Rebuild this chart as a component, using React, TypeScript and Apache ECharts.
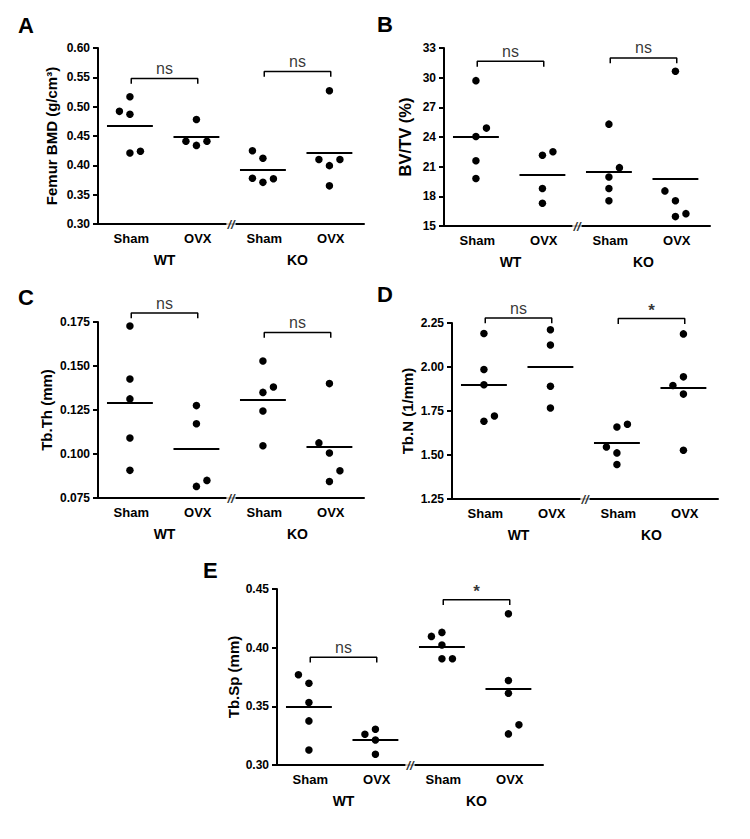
import React, { useEffect, useRef } from "react";
import * as echarts from "echarts";

const FONT = '"Liberation Sans", Arial, Helvetica, sans-serif';

// Category labels
const groups = ["Sham", "OVX", "Sham", "OVX"];
const genotypes = ["WT", "KO"];

// Panel A: Femur BMD (g/cm3) — per group: WT Sham, WT OVX, KO Sham, KO OVX
const aValues = [
  [0.517, 0.492, 0.487, 0.421, 0.424],
  [0.478, 0.441, 0.434, 0.441],
  [0.425, 0.412, 0.378, 0.371, 0.377],
  [0.527, 0.41, 0.3995, 0.41, 0.365],
];
const aSlots = [
  [0, -1, 0, 0, 1],
  [0, -1, 0, 1],
  [-1, 0, -1, 0, 1],
  [0, -1, 0, 1, 0],
];
const aBracketY = [0.548, 0.56];
const aBracketText = ["ns", "ns"];

// Panel B: BV/TV (%)
const bValues = [
  [29.7, 24.9, 24.05, 21.6, 19.8],
  [22.15, 22.5, 18.8, 17.3],
  [25.3, 20.9, 19.95, 18.8, 17.55],
  [30.65, 18.55, 17.55, 16.25, 15.95],
];
const bSlots = [
  [0, 1, 0, 0, 0],
  [0, 1, 0, 0],
  [0, 1, 0, 0, 0],
  [0, -1, 0, 1, 0],
];
const bBracketY = [31.65, 32.0];
const bBracketText = ["ns", "ns"];

// Panel C: Tb.Th (mm)
const cValues = [
  [0.1727, 0.1426, 0.1313, 0.1091, 0.0907],
  [0.1275, 0.1172, 0.0816, 0.085],
  [0.1528, 0.1381, 0.135, 0.1244, 0.1047],
  [0.14, 0.1063, 0.1006, 0.0905, 0.0844],
];
const cSlots = [
  [0, 0, 0, 0, 0],
  [0, 0, 0, 1],
  [0, 1, 0, 0, 0],
  [0, -1, 0, 1, 0],
];
const cBracketY = [0.1801, 0.1691];
const cBracketText = ["ns", "ns"];

// Panel D: Tb.N (1/mm)
const dValues = [
  [2.19, 1.986, 1.899, 1.722, 1.692],
  [2.212, 2.125, 1.891, 1.767],
  [1.675, 1.659, 1.546, 1.512, 1.446],
  [2.188, 1.944, 1.895, 1.846, 1.527],
];
const dSlots = [
  [0, 0, 0, 1, 0],
  [0, 0, 0, 0],
  [1, 0, -1, 0, 0],
  [0, 0, -1, 0, 0],
];
const dBracketY = [2.278, 2.275];
const dBracketText = ["ns", "*"];

// Panel E: Tb.Sp (mm)
const eValues = [
  [0.3769, 0.3697, 0.3532, 0.3376, 0.3128],
  [0.3262, 0.3305, 0.3213, 0.3091],
  [0.413, 0.4096, 0.4022, 0.3905, 0.3905],
  [0.4289, 0.372, 0.3612, 0.3342, 0.3265],
];
const eSlots = [
  [-1, 0, 0, 0, 0],
  [-1, 0, 0, 0],
  [0, -1, 0, 0, 1],
  [0, 0, 0, 1, 0],
];
const eBracketY = [0.3919, 0.4409];
const eBracketText = ["ns", "*"];

// Layout / style config
const SLOT = 0.158;
const SHIFT = -0.02;
const HALF = 0.345;
const GRID_W = 266;

const panels = [
  { letter: "A", title: "Femur BMD (g/cm³)", values: aValues, slots: aSlots, bracketY: aBracketY, bracketText: aBracketText,
    yMin: 0.3, yMax: 0.6, yStep: 0.05, dec: 2, left: 98, top: 48, height: 176, nameGap: 39, titleSize: 15, lx: 18, ly: 14 },
  { letter: "B", title: "BV/TV (%)", values: bValues, slots: bSlots, bracketY: bBracketY, bracketText: bBracketText,
    yMin: 15, yMax: 33, yStep: 3, dec: 0, left: 444, top: 48, height: 178, nameGap: 31, titleSize: 16.5, lx: 377, ly: 13 },
  { letter: "C", title: "Tb.Th (mm)", values: cValues, slots: cSlots, bracketY: cBracketY, bracketText: cBracketText,
    yMin: 0.075, yMax: 0.175, yStep: 0.025, dec: 3, left: 98, top: 322, height: 176, nameGap: 44, titleSize: 15, lx: 18, ly: 286 },
  { letter: "D", title: "Tb.N (1/mm)", values: dValues, slots: dSlots, bracketY: dBracketY, bracketText: dBracketText,
    yMin: 1.25, yMax: 2.25, yStep: 0.25, dec: 2, left: 452, top: 323, height: 176, nameGap: 37, titleSize: 15, lx: 377, ly: 283 },
  { letter: "E", title: "Tb.Sp (mm)", values: eValues, slots: eSlots, bracketY: eBracketY, bracketText: eBracketText,
    yMin: 0.3, yMax: 0.45, yStep: 0.05, dec: 2, left: 277, top: 589, height: 176, nameGap: 36, titleSize: 15, lx: 203, ly: 559 },
];

function buildOption() {
  const grid: any[] = [];
  const xAxis: any[] = [];
  const yAxis: any[] = [];
  const series: any[] = [];
  const graphic: any[] = [];
  const black = "#000";

  panels.forEach((p, i) => {
    grid.push({ left: p.left, top: p.top, width: GRID_W, height: p.height });
    xAxis.push({
      type: "category", gridIndex: i, position: "bottom", data: groups,
      axisLine: { onZero: false, lineStyle: { color: black, width: 2 } },
      axisTick: { alignWithLabel: true, length: 5, lineStyle: { color: black, width: 2 } },
      axisLabel: { color: black, fontSize: 13, fontWeight: "bold", fontFamily: FONT, margin: 8 },
      splitLine: { show: false },
    });
    xAxis.push({ type: "value", gridIndex: i, position: "top", min: -0.5, max: 3.5, show: false,
      axisLine: { onZero: false } });
    xAxis.push({
      type: "category", gridIndex: i, position: "bottom", data: genotypes,
      axisLine: { show: false, onZero: false }, axisTick: { show: false },
      axisLabel: { color: black, fontSize: 14, fontWeight: "bold", fontFamily: FONT, margin: 29 },
      splitLine: { show: false },
    });
    yAxis.push({
      type: "value", gridIndex: i, min: p.yMin, max: p.yMax, interval: p.yStep,
      axisLine: { show: true, onZero: false, lineStyle: { color: black, width: 2 } },
      axisTick: { show: true, length: 5, lineStyle: { color: black, width: 2 } },
      splitLine: { show: false },
      axisLabel: { color: black, fontSize: 12, fontWeight: "bold", fontFamily: FONT, margin: 8,
        formatter: (v: number) => v.toFixed(p.dec) },
      name: p.title, nameLocation: "middle", nameRotate: 90, nameGap: p.nameGap,
      nameTextStyle: { color: black, fontSize: p.titleSize, fontWeight: "bold", fontFamily: FONT },
    });

    const vx = 3 * i + 1;
    const points: number[][] = [];
    p.values.forEach((vals, g) =>
      vals.forEach((v, k) => points.push([g + SHIFT + p.slots[g][k] * SLOT, v]))
    );
    const means = p.values.map((vals) => vals.reduce((a, b) => a + b, 0) / vals.length);
    series.push({
      type: "scatter", xAxisIndex: vx, yAxisIndex: i, data: points, symbolSize: 7.5,
      itemStyle: { color: black, opacity: 1 }, clip: false, silent: true,
      markLine: {
        silent: true, symbol: ["none", "none"], label: { show: false },
        lineStyle: { color: black, width: 2, type: "solid" },
        data: means.map((m, g) => [{ coord: [g + SHIFT - HALF, m] }, { coord: [g + SHIFT + HALF, m] }]),
      },
    });

    const leg = (p.yMax - p.yMin) * 0.03;
    p.bracketY.forEach((top, b) => {
      const c0 = 2 * b;
      const c1 = 2 * b + 1;
      series.push({
        type: "line", xAxisIndex: vx, yAxisIndex: i, clip: false, silent: true, symbol: "none",
        lineStyle: { color: black, width: 1.5 },
        data: [[c0, top - leg], [c0, top], [c1, top], [c1, top - leg]],
      });
      const txt = p.bracketText[b];
      series.push({
        type: "scatter", xAxisIndex: vx, yAxisIndex: i, clip: false, silent: true, symbolSize: 0,
        data: [[c0 + 0.5, top]],
        label: { show: true, position: "top", distance: txt === "*" ? 0 : 2, formatter: txt, color: black,
          fontSize: txt === "*" ? 17 : 16, fontWeight: txt === "*" ? "bold" : "normal", fontFamily: FONT },
      });
    });

    // axis break marker
    series.push({
      type: "scatter", xAxisIndex: vx, yAxisIndex: i, clip: false, silent: true, symbolSize: 0,
      data: [[1.5, p.yMin]],
      label: { show: true, position: "inside", formatter: "//", color: black, fontSize: 13,
        fontWeight: "bold", fontStyle: "italic", fontFamily: FONT, backgroundColor: "#fff", padding: [0, 1] },
    });

    graphic.push({
      type: "text", left: p.lx, top: p.ly,
      style: { text: p.letter, fill: black, font: `bold 22px ${FONT}` },
    });
  });

  return { animation: false, backgroundColor: "#fff", grid, xAxis, yAxis, series, graphic };
}

export default function App() {
  const ref = useRef<HTMLDivElement>(null);
  useEffect(() => {
    document.body.style.margin = "0";
    if (!ref.current) return;
    const chart = echarts.init(ref.current, null, { renderer: "svg" });
    chart.setOption(buildOption());
    return () => chart.dispose();
  }, []);
  return <div ref={ref} style={{ width: 750, height: 839, background: "#fff" }} />;
}
